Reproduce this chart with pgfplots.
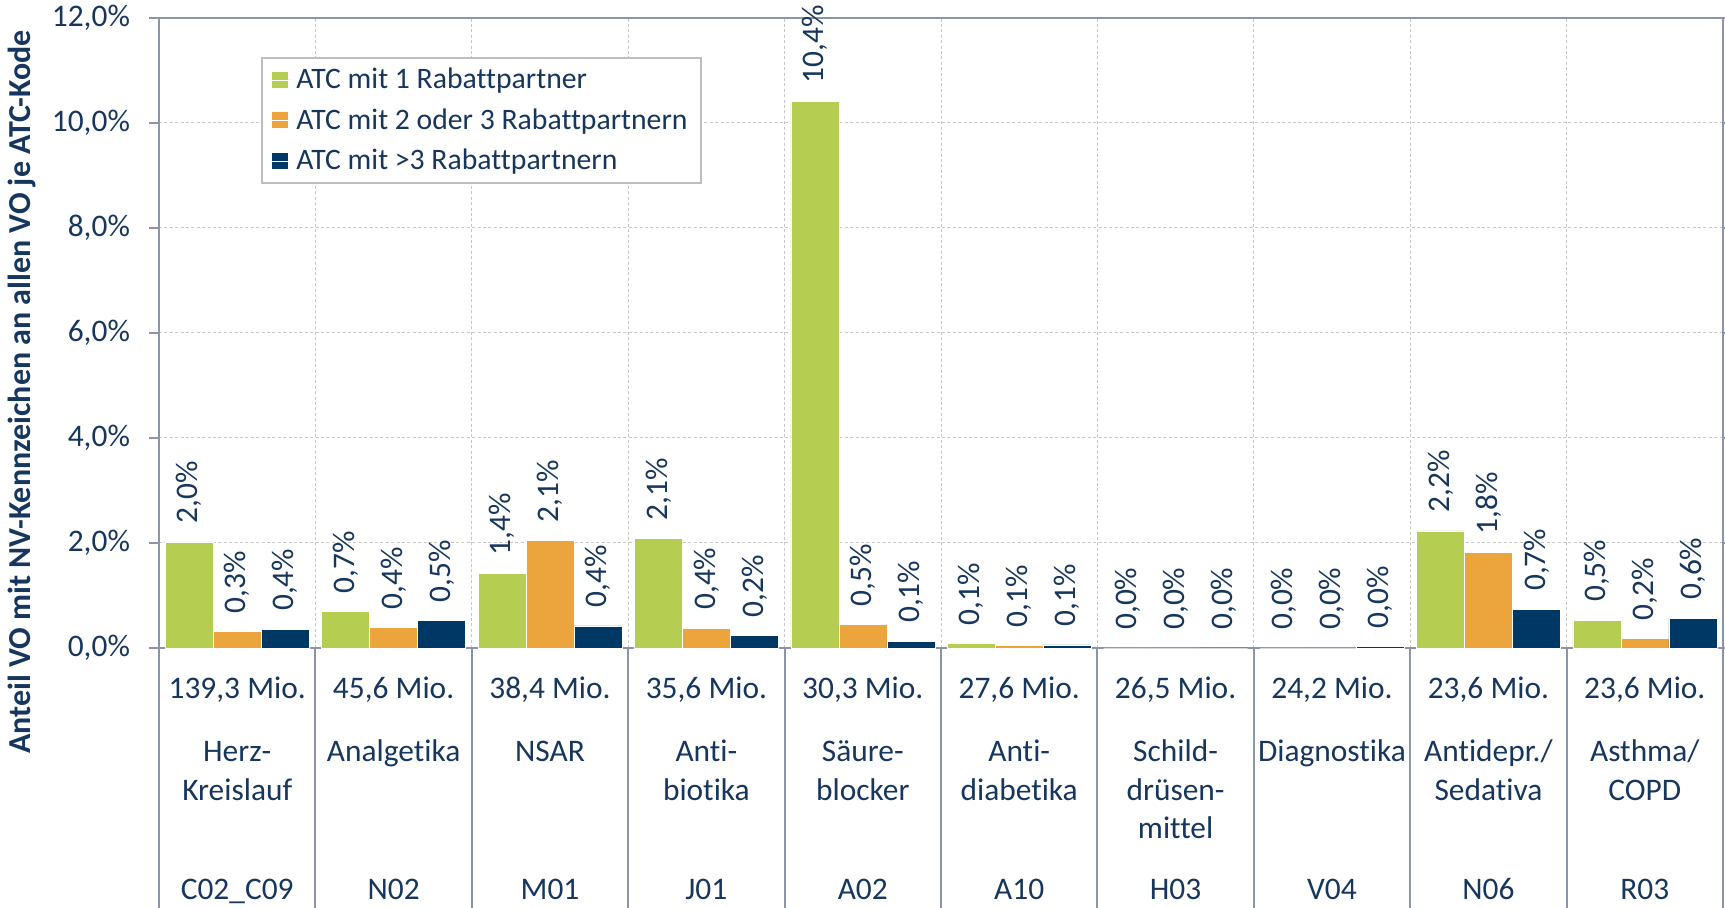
\documentclass[border=0pt]{standalone}
\usepackage{fontspec}
\setmainfont[Ligatures=NoCommon]{Carlito}
\usepackage{pgfplots}
\pgfplotsset{compat=1.18}
\definecolor{cgreen}{RGB}{181,205,81}
\definecolor{corange}{RGB}{235,165,60}
\definecolor{cnavy}{RGB}{0,56,101}
\definecolor{txt}{RGB}{23,54,93}
\definecolor{axisgray}{RGB}{140,148,168}
\definecolor{gridgray}{RGB}{200,200,195}
\definecolor{legendgray}{RGB}{190,190,190}
\newcommand\lbl{\fontsize{15.7pt}{18.5pt}\selectfont}
\newcommand\lgd{\fontsize{14.85pt}{17.5pt}\selectfont}
\newcommand\ylb{\fontsize{16pt}{19pt}\selectfont\bfseries}
\pgfplotstableread{
x y lab
0 2.02 {2,0\%}
1 0.69 {0,7\%}
2 1.42 {1,4\%}
3 2.08 {2,1\%}
4 10.41 {10,4\%}
5 0.08 {0,1\%}
6 0.00 {0,0\%}
7 0.00 {0,0\%}
8 2.23 {2,2\%}
9 0.53 {0,5\%}
}\gA
\pgfplotstableread{
x y lab
0 0.31 {0,3\%}
1 0.39 {0,4\%}
2 2.05 {2,1\%}
3 0.38 {0,4\%}
4 0.45 {0,5\%}
5 0.05 {0,1\%}
6 0.00 {0,0\%}
7 0.00 {0,0\%}
8 1.82 {1,8\%}
9 0.18 {0,2\%}
}\gB
\pgfplotstableread{
x y lab
0 0.36 {0,4\%}
1 0.52 {0,5\%}
2 0.42 {0,4\%}
3 0.24 {0,2\%}
4 0.13 {0,1\%}
5 0.06 {0,1\%}
6 0.00 {0,0\%}
7 0.03 {0,0\%}
8 0.74 {0,7\%}
9 0.57 {0,6\%}
}\gC
\begin{document}
\begin{tikzpicture}
\begin{axis}[
  name=ax, at={(0,0)}, anchor=south west,
  scale only axis, width=782pt, height=315pt,
  xmin=-0.5, xmax=9.5, ymin=0, ymax=12,
  ybar=0pt, bar width=24pt,
  axis line style={draw=axisgray, line width=1pt},
  xtick={0.5,1.5,...,8.5}, xticklabels={}, xmajorgrids,
  xtick style={draw=none},
  ytick={0,2,...,12},
  yticklabels={{0,0\%},{2,0\%},{4,0\%},{6,0\%},{8,0\%},{10,0\%},{12,0\%}},
  ymajorgrids,
  grid style={draw=gridgray, dash pattern=on 1.5pt off 1.2pt, line width=0.5pt},
  ytick style={draw=axisgray, line width=1pt},
  tick align=outside, major tick length=5pt,
  yticklabel style={font=\lbl, text=txt, xshift=-6pt},
  clip=false,
  nodes near coords,
  point meta=explicit symbolic,
  every node near coord/.append style={rotate=90, anchor=west, font=\lbl, text=txt, inner xsep=9pt, inner ysep=0pt},
  legend style={at={(axis description cs:0.0652,0.938)}, anchor=north west,
    draw=legendgray, line width=1pt, font=\lgd, text=txt,
    inner xsep=4.7pt, inner ysep=3pt, row sep=4.5pt},
  legend cell align=left,
  legend image code/.code={\fill[#1,draw=none] (0pt,-4pt) rectangle (8pt,4pt); \path (0pt,0pt) -- (10.25pt,0pt);},
]
\addplot[fill=cgreen, draw=white, line width=0.3pt] table[x=x,y=y,meta=lab]{\gA};
\addplot[fill=corange, draw=white, line width=0.3pt] table[x=x,y=y,meta=lab]{\gB};
\addplot[fill=cnavy, draw=white, line width=0.3pt] table[x=x,y=y,meta=lab]{\gC};
\legend{ATC mit 1 Rabattpartner, ATC mit 2 oder 3 Rabattpartnern, ATC mit >3 Rabattpartnern}
\pgfplotsinvokeforeach{-0.5,0.5,1.5,2.5,3.5,4.5,5.5,6.5,7.5,8.5,9.5}{
  \draw[axisgray, line width=1pt] (axis cs:#1,0) -- ([yshift=-135pt]axis cs:#1,0);
}
\tikzset{cl/.style={anchor=base, font=\lbl, text=txt, inner sep=0pt}}
% row 1
\node[cl] at ([yshift=-25.5pt]axis cs:0,0) {139,3 Mio.};
\node[cl] at ([yshift=-25.5pt]axis cs:1,0) {45,6 Mio.};
\node[cl] at ([yshift=-25.5pt]axis cs:2,0) {38,4 Mio.};
\node[cl] at ([yshift=-25.5pt]axis cs:3,0) {35,6 Mio.};
\node[cl] at ([yshift=-25.5pt]axis cs:4,0) {30,3 Mio.};
\node[cl] at ([yshift=-25.5pt]axis cs:5,0) {27,6 Mio.};
\node[cl] at ([yshift=-25.5pt]axis cs:6,0) {26,5 Mio.};
\node[cl] at ([yshift=-25.5pt]axis cs:7,0) {24,2 Mio.};
\node[cl] at ([yshift=-25.5pt]axis cs:8,0) {23,6 Mio.};
\node[cl] at ([yshift=-25.5pt]axis cs:9,0) {23,6 Mio.};
% row 2
\node[cl] at ([yshift=-57pt]axis cs:0,0) {Herz-};
\node[cl] at ([yshift=-76.2pt]axis cs:0,0) {Kreislauf};
\node[cl] at ([yshift=-57pt]axis cs:1,0) {Analgetika};
\node[cl] at ([yshift=-57pt]axis cs:2,0) {NSAR};
\node[cl] at ([yshift=-57pt]axis cs:3,0) {Anti-};
\node[cl] at ([yshift=-76.2pt]axis cs:3,0) {biotika};
\node[cl] at ([yshift=-57pt]axis cs:4,0) {Säure-};
\node[cl] at ([yshift=-76.2pt]axis cs:4,0) {blocker};
\node[cl] at ([yshift=-57pt]axis cs:5,0) {Anti-};
\node[cl] at ([yshift=-76.2pt]axis cs:5,0) {diabetika};
\node[cl] at ([yshift=-57pt]axis cs:6,0) {Schild-};
\node[cl] at ([yshift=-76.2pt]axis cs:6,0) {drüsen-};
\node[cl] at ([yshift=-95.4pt]axis cs:6,0) {mittel};
\node[cl] at ([yshift=-57pt]axis cs:7,0) {Diagnostika};
\node[cl] at ([yshift=-57pt]axis cs:8,0) {Antidepr./};
\node[cl] at ([yshift=-76.2pt]axis cs:8,0) {Sedativa};
\node[cl] at ([yshift=-57pt]axis cs:9,0) {Asthma/};
\node[cl] at ([yshift=-76.2pt]axis cs:9,0) {COPD};
% row 3
\node[cl] at ([yshift=-126pt]axis cs:0,0) {C02\_C09};
\node[cl] at ([yshift=-126pt]axis cs:1,0) {N02};
\node[cl] at ([yshift=-126pt]axis cs:2,0) {M01};
\node[cl] at ([yshift=-126pt]axis cs:3,0) {J01};
\node[cl] at ([yshift=-126pt]axis cs:4,0) {A02};
\node[cl] at ([yshift=-126pt]axis cs:5,0) {A10};
\node[cl] at ([yshift=-126pt]axis cs:6,0) {H03};
\node[cl] at ([yshift=-126pt]axis cs:7,0) {V04};
\node[cl] at ([yshift=-126pt]axis cs:8,0) {N06};
\node[cl] at ([yshift=-126pt]axis cs:9,0) {R03};
\end{axis}
\node[rotate=90, font=\ylb, text=txt, anchor=center] at ([shift={(-68.5pt,128pt)}]ax.south west) {Anteil VO mit NV-Kennzeichen an allen VO je ATC-Kode};
\pgfresetboundingbox
\path[use as bounding box] ([shift={(-79.5pt,-130pt)}]ax.south west) rectangle ([shift={(1pt,9pt)}]ax.north east);
\end{tikzpicture}
\end{document}
